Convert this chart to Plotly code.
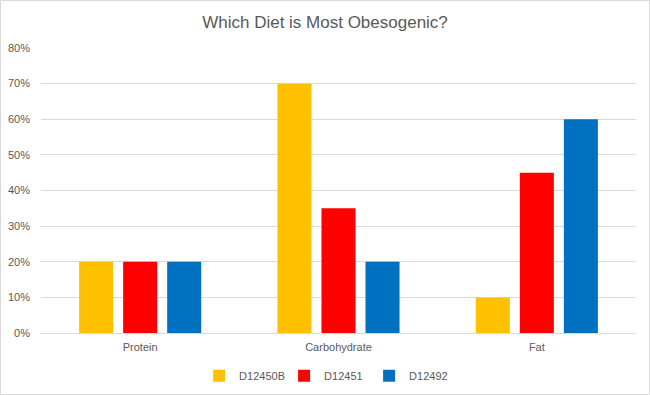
import plotly.graph_objects as go

categories = ["Protein", "Carbohydrate", "Fat"]
series_names = ["D12450B", "D12451", "D12492"]
d12450b = [0.20, 0.70, 0.10]
d12451 = [0.20, 0.35, 0.45]
d12492 = [0.20, 0.20, 0.60]
colors = ["#FFC000", "#FF0000", "#0070C0"]

FONT = "Liberation Sans Narrow, Arial Narrow, Liberation Sans, Arial, sans-serif"

fig = go.Figure()
for name, vals, c in zip(series_names, [d12450b, d12451, d12492], colors):
    fig.add_trace(go.Bar(x=categories, y=vals, name=name, marker_color=c, marker_line_width=0))

fig.update_layout(
    width=650, height=395,
    margin=dict(l=41, r=14, t=48, b=62, autoexpand=False),
    paper_bgcolor="white", plot_bgcolor="white",
    barmode="group", bargap=0.334, bargroupgap=0.227,
    title=dict(text="Which Diet is Most Obesogenic?", x=0.5, xanchor="center", y=0.945, yanchor="middle",
               font=dict(family=FONT, size=17, color="#595959")),
    font=dict(family=FONT, size=11, color="#595959"),
    xaxis=dict(showgrid=False, showline=True, linecolor="#D9D9D9", linewidth=1, ticks="",
               ticklabelstandoff=4, automargin=False, tickfont=dict(size=11)),
    yaxis=dict(range=[0, 0.8], dtick=0.1, tickformat=".0%", showgrid=True, gridcolor="#D9D9D9",
               zeroline=False, showline=False, ticks="", ticklabelstandoff=10, automargin=False,
               tickfont=dict(size=11)),
    legend=dict(orientation="h", x=0.48, xanchor="center", y=-0.15, yanchor="middle",
                font=dict(size=11, color="#595959"), itemwidth=30, entrywidth=40, entrywidthmode="pixels"),
)
fig.add_shape(type="rect", xref="paper", yref="paper", x0=-40.5/595, x1=1+13.5/595,
              y0=-61.5/285, y1=1+47.5/285, line=dict(color="#D9D9D9", width=1))
fig.write_html("out.html", config={"displayModeBar": False},
               post_script="document.body.style.margin='0';document.body.style.padding='0';")
